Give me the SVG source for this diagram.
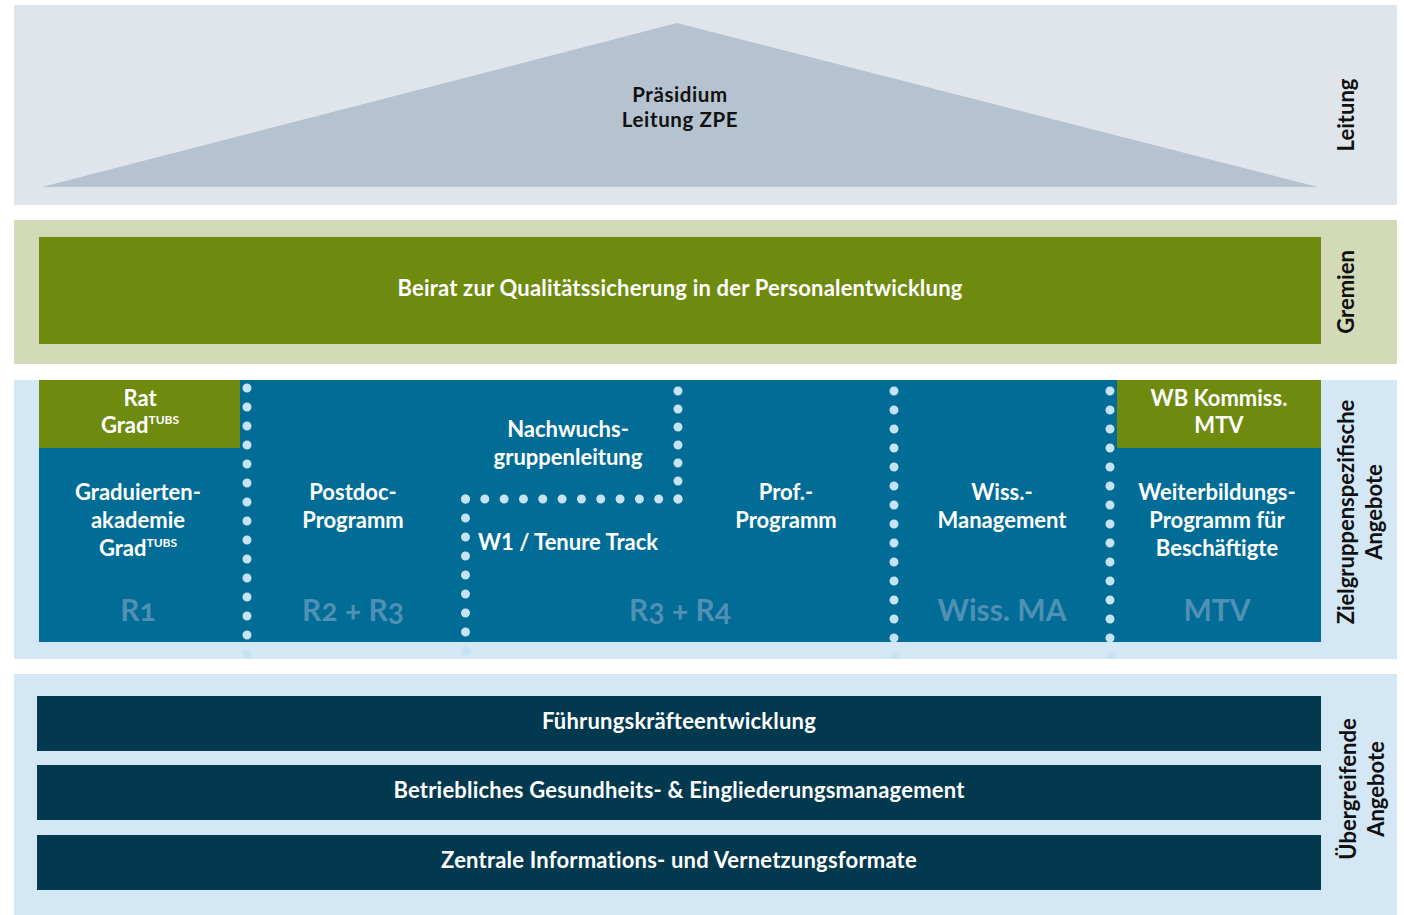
<svg xmlns="http://www.w3.org/2000/svg" width="1404" height="915" viewBox="0 0 1404 915">
<style>
text{font-family:Lato,"Open Sans","Liberation Sans",sans-serif;font-weight:700;text-anchor:middle}
.dk{fill:#111;font-size:22px}
.top{fill:#111;font-size:20.5px;letter-spacing:0.6px}
.wt{fill:#fff;font-size:22px}
.big{fill:#fff;font-size:22px;letter-spacing:0.2px}
.fd{fill:#4f90b4;font-size:30px;font-variant-numeric:oldstyle-nums}
.sup{font-size:12px}
.dots{stroke:#c6e2f3;stroke-width:9;stroke-linecap:round;fill:none}
</style>
<defs>
<clipPath id="bandclip"><rect x="14" y="380" width="1383" height="279"/></clipPath>
</defs>
<rect width="1404" height="915" fill="#fff"/>
<g id="leitung">
<rect x="14" y="5" width="1383" height="200" fill="#e0e5ec"/>
<polygon points="677,23 1318,187 42,187" fill="#b5c3d0"/>
<text class="top" x="680" y="102">Präsidium</text>
<text class="top" x="680" y="127">Leitung ZPE</text>
<text class="dk" transform="translate(1354,115) rotate(-90)">Leitung</text>
</g>
<g id="gremien">
<rect x="14" y="220" width="1383" height="144" fill="#d3dab8"/>
<rect x="39" y="237" width="1282" height="107" fill="#6e8a0f"/>
<text class="big" x="680" y="296">Beirat zur Qualitätssicherung in der Personalentwicklung</text>
<text class="dk" transform="translate(1354,292) rotate(-90)">Gremien</text>
</g>
<g id="zielgruppen">
<rect x="14" y="380" width="1383" height="279" fill="#d3e8f4"/>
<rect x="39" y="380" width="1282" height="262" fill="#016c96"/>
<rect x="39" y="380" width="201" height="68" fill="#6e8a0f"/>
<rect x="1117" y="380" width="204" height="68" fill="#6e8a0f"/>
<text class="dk" transform="translate(1354,512) rotate(-90)">Zielgruppenspezifische</text>
<text class="dk" transform="translate(1382,512) rotate(-90)">Angebote</text>
</g>
<g id="connectors" clip-path="url(#bandclip)">
<line class="dots" x1="247" y1="388" x2="247" y2="655" stroke-dasharray="0 19"/>
<line class="dots" x1="465.5" y1="499" x2="465.5" y2="670" stroke-dasharray="0 19"/>
<line class="dots" x1="465.5" y1="499" x2="678.1" y2="499" stroke-dasharray="0 19.32"/>
<line class="dots" x1="678" y1="391" x2="678" y2="499.1" stroke-dasharray="0 18"/>
<line class="dots" x1="894" y1="391" x2="894" y2="670" stroke-dasharray="0 19"/>
<line class="dots" x1="1110" y1="391" x2="1110" y2="670" stroke-dasharray="0 19"/>
</g>
<g id="rat">
<text class="wt" x="140" y="406">Rat</text>
<text class="wt" x="140" y="433">Grad<tspan class="sup" dy="-9">TUBS</tspan></text>
</g>
<g id="graduierten">
<text class="wt" x="138" y="500">Graduierten-</text>
<text class="wt" x="138" y="528">akademie</text>
<text class="wt" x="138" y="556">Grad<tspan class="sup" dy="-9">TUBS</tspan></text>
<text class="fd" x="138" y="621">R1</text>
</g>
<g id="postdoc">
<text class="wt" x="353" y="500">Postdoc-</text>
<text class="wt" x="353" y="528">Programm</text>
<text class="fd" x="353" y="621">R2 + R3</text>
</g>
<g id="nachwuchs">
<text class="wt" x="568" y="437">Nachwuchs-</text>
<text class="wt" x="568" y="465">gruppenleitung</text>
</g>
<g id="w1">
<text class="wt" x="568" y="550">W1 / Tenure Track</text>
</g>
<g id="prof">
<text class="wt" x="786" y="500">Prof.-</text>
<text class="wt" x="786" y="528">Programm</text>
<text class="fd" x="680" y="621">R3 + R4</text>
</g>
<g id="wiss">
<text class="wt" x="1002" y="500">Wiss.-</text>
<text class="wt" x="1002" y="528">Management</text>
<text class="fd" x="1002" y="621">Wiss. MA</text>
</g>
<g id="wbkommiss">
<text class="wt" x="1219" y="406">WB Kommiss.</text>
<text class="wt" x="1219" y="433">MTV</text>
</g>
<g id="weiterbildung">
<text class="wt" x="1217" y="500">Weiterbildungs-</text>
<text class="wt" x="1217" y="528">Programm für</text>
<text class="wt" x="1217" y="556">Beschäftigte</text>
<text class="fd" x="1217" y="621">MTV</text>
</g>
<g id="uebergreifend">
<rect x="14" y="674" width="1383" height="241" fill="#d3e8f4"/>
<text class="dk" transform="translate(1356,789) rotate(-90)">Übergreifende</text>
<text class="dk" transform="translate(1384,789) rotate(-90)">Angebote</text>
</g>
<g id="fuehrung">
<rect x="37" y="696" width="1284" height="55" fill="#02394f"/>
<text class="big" x="679" y="729">Führungskräfteentwicklung</text>
</g>
<g id="bgm">
<rect x="37" y="765" width="1284" height="55" fill="#02394f"/>
<text class="big" x="679" y="798">Betriebliches Gesundheits- &amp; Eingliederungsmanagement</text>
</g>
<g id="zentrale">
<rect x="37" y="835" width="1284" height="55" fill="#02394f"/>
<text class="big" x="679" y="868">Zentrale Informations- und Vernetzungsformate</text>
</g>
</svg>
